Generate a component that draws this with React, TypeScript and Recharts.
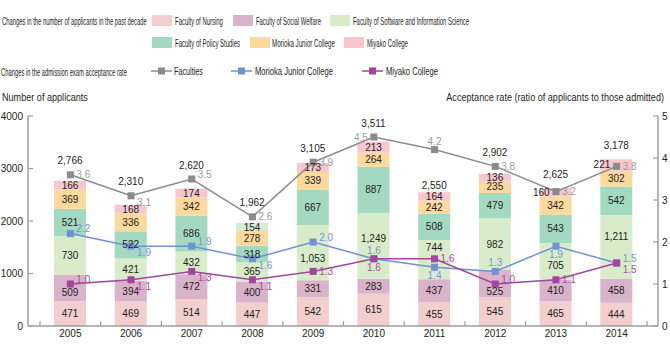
import React from 'react';
import { ComposedChart, Bar, Line, XAxis, YAxis, LabelList, Cell } from 'recharts';

// applicants per year, stacked bottom to top
const years = ['2005', '2006', '2007', '2008', '2009', '2010', '2011', '2012', '2013', '2014'];
const nursing = [471, 469, 514, 447, 542, 615, 455, 545, 465, 444];
const socialWelfare = [509, 394, 472, 400, 331, 283, 437, 525, 410, 458];
const software = [730, 421, 432, 365, 1053, 1249, 744, 982, 705, 1211];
const policy = [521, 522, 686, 318, 667, 887, 508, 479, 543, 542];
const moriokaApplicants = [369, 336, 342, 278, 339, 264, 242, 235, 342, 302];
const miyakoApplicants = [166, 168, 174, 154, 173, 213, 164, 136, 160, 221];

// acceptance rate (applicants / admitted)
const facultiesRate = [3.6, 3.1, 3.5, 2.6, 3.9, 4.5, 4.2, 3.8, 3.2, 3.8];
const moriokaRate = [2.2, 1.9, 1.9, 1.6, 2.0, 1.6, 1.4, 1.3, 1.9, 1.5];
const miyakoRate = [1.0, 1.1, 1.3, 1.1, 1.3, 1.6, 1.6, 1.0, 1.1, 1.5];

const leftTicks = [0, 1000, 2000, 3000, 4000];
const rightTicks = [0, 1, 2, 3, 4, 5];

// where each rate label sits relative to its point
const facultiesPlace = ['r', 'lr', 'ur', 'r', 'r', 'l', 'a', 'r', 'r', 'r'];
const moriokaPlace = ['ur', 'lr', 'ur', 'lr', 'ur', 'a', 'b', 'a', 'b', 'ur'];
const miyakoPlace = ['ur', 'lr', 'lr', 'lr', 'r', 'b', 'r', 'ur', 'r', 'lr'];

// vertical nudges (px) for segment labels that dodge the lines
const socialNudge = [5, 0, 0, 0, 0, 0, 0, 8, 0, 0];
const softwareNudge = [0, 0, 0, 0, 6, -8, -12, 0, 4, -10];
const noNudge = years.map(() => 0);

// the 2008 Miyako segment is printed green in the original
const oddMiyakoYear = '2008';

const C = {
  nursing: '#f2cfcd',
  social: '#d8b3c9',
  software: '#d9ecca',
  policy: '#a3d9c1',
  morioka: '#fdd99d',
  miyako: '#f7c7cd',
  miyakoOdd: '#d6ecd4',
  facLine: '#8b8b8b',
  morLine: '#7092d3',
  miyLine: '#a3459e',
  facText: '#9a9a9a',
  morText: '#7895d4',
  miyText: '#a94ca3',
  axis: '#9e9e9e',
  ink: '#231f20',
};

const FONT = '"Liberation Sans", Arial, Helvetica, sans-serif';
const W = 670;
const H = 350;
const PLOT_TOP = 116;
const PLOT_BOTTOM = 326;
const BAND = (W - 28 - 12 - 12 - 11) / years.length;

const data = years.map((year, i) => ({
  year,
  nursing: nursing[i],
  socialWelfare: socialWelfare[i],
  software: software[i],
  policy: policy[i],
  morioka: moriokaApplicants[i],
  miyako: miyakoApplicants[i],
  total: nursing[i] + socialWelfare[i] + software[i] + policy[i] + moriokaApplicants[i] + miyakoApplicants[i],
  facultiesRate: facultiesRate[i],
  moriokaRate: moriokaRate[i],
  miyakoRate: miyakoRate[i],
}));

const fmt = (v: number) => v.toLocaleString('en-US');
const rateY = (r: number) => PLOT_BOTTOM - (r / 5) * (PLOT_BOTTOM - PLOT_TOP);

// canvas measure so the condensed header texts can be squeezed to width
const measure = document.createElement('canvas').getContext('2d');
const textWidth = (s: string, size: number) => {
  if (!measure) return s.length * size * 0.5;
  measure.font = `${size}px "Liberation Sans"`;
  return measure.measureText(s).width;
};

const Squeezed = ({ x, y, len, size, text, anchor = 'start' }: any) => {
  const sx = len / textWidth(text, size);
  return (
    <text
      transform={`translate(${x},${y}) scale(${sx.toFixed(4)},1)`}
      fontSize={size}
      fontFamily={FONT}
      fill={C.ink}
      textAnchor={anchor}
    >
      {text}
    </text>
  );
};

const XTick = (p: any) => {
  const { x, y, payload, index } = p;
  return (
    <g>
      <line x1={x - BAND / 2} x2={x - BAND / 2} y1={y} y2={y - 5} stroke={C.axis} strokeWidth={1.2} />
      {index === years.length - 1 && (
        <line x1={x + BAND / 2} x2={x + BAND / 2} y1={y} y2={y - 5} stroke={C.axis} strokeWidth={1.2} />
      )}
      <text x={x} y={y + 11} textAnchor="middle" fontSize={10} fontFamily={FONT} fill={C.ink}>
        {payload.value}
      </text>
    </g>
  );
};

const LeftTick = (p: any) => {
  const { x, y, payload } = p;
  return (
    <g>
      <line x1={x} x2={x + 5} y1={y} y2={y} stroke={C.axis} strokeWidth={1.2} />
      <text x={x - 5} y={y + 3.5} textAnchor="end" fontSize={10} fontFamily={FONT} fill={C.ink}>
        {payload.value}
      </text>
    </g>
  );
};

const RightTick = (p: any) => {
  const { x, y, payload } = p;
  return (
    <g>
      <line x1={x - 5} x2={x} y1={y} y2={y} stroke={C.axis} strokeWidth={1.2} />
      <text x={x + 4} y={y + 3.5} textAnchor="start" fontSize={10} fontFamily={FONT} fill={C.ink}>
        {payload.value}
      </text>
    </g>
  );
};

const segLabel = (nudge: number[]) => (p: any) => {
  const { x, y, width, height, value, index } = p;
  return (
    <text
      x={x + width / 2}
      y={y + height / 2 + 3.5 + (nudge[index] || 0)}
      textAnchor="middle"
      fontSize={10}
      fontFamily={FONT}
      fill={C.ink}
    >
      {fmt(value)}
    </text>
  );
};

// top segment label: slides left when the faculties marker sits inside it
const MiyakoLabel = (p: any) => {
  const { x, y, width, height, value, index } = p;
  const py = rateY(facultiesRate[index]);
  const inside = py >= y && py <= y + height;
  return (
    <text
      x={inside ? x + width / 2 - 6 : x + width / 2}
      y={y + height / 2 + 3.5}
      textAnchor={inside ? 'end' : 'middle'}
      fontSize={10}
      fontFamily={FONT}
      fill={C.ink}
    >
      {fmt(value)}
    </text>
  );
};

const TotalLabel = (p: any) => {
  const { x, y, width, value, index } = p;
  const py = rateY(facultiesRate[index]);
  const ty = y - py > 30 ? y - 3 : Math.min(y, py) - 10.5;
  return (
    <text x={x + width / 2} y={ty} textAnchor="middle" fontSize={10} fontFamily={FONT} fill={C.ink}>
      {fmt(value)}
    </text>
  );
};

const rateLabel = (places: string[], color: string) => (p: any) => {
  const { x, y, value, index } = p;
  const code = places[index];
  let tx = x + 6;
  let ty = y + 3.5;
  let anchor: 'start' | 'middle' | 'end' = 'start';
  if (code === 'ur') ty = y - 1.5;
  if (code === 'lr') ty = y + 10;
  if (code === 'a') { tx = x; ty = y - 5; anchor = 'middle'; }
  if (code === 'b') { tx = x; ty = y + 12; anchor = 'middle'; }
  if (code === 'l') { tx = x - 6; anchor = 'end'; }
  return (
    <text x={tx} y={ty} textAnchor={anchor} fontSize={10} fontFamily={FONT} fill={color}>
      {Number(value).toFixed(1)}
    </text>
  );
};

const squareDot = (color: string) => (p: any) => (
  <rect key={`d-${p.index}`} x={p.cx - 3.5} y={p.cy - 3.5} width={7} height={7} fill={color} />
);

const swatches = [
  { label: 'Faculty of Nursing', color: C.nursing, x: 152, y: 15, tx: 175, len: 48 },
  { label: 'Faculty of Social Welfare', color: C.social, x: 233, y: 15, tx: 256, len: 65 },
  { label: 'Faculty of Software and Information Science', color: C.software, x: 330, y: 15, tx: 353, len: 116 },
  { label: 'Faculty of Policy Studies', color: C.policy, x: 152, y: 37, tx: 175, len: 65 },
  { label: 'Morioka Junior College', color: C.morioka, x: 250, y: 37, tx: 272, len: 63 },
  { label: 'Miyako College', color: C.miyako, x: 344, y: 37, tx: 367, len: 41 },
];

const lineKeys = [
  { label: 'Faculties', color: C.facLine, x: 151, tx: 174, len: 29 },
  { label: 'Morioka Junior College', color: C.morLine, x: 231, tx: 255, len: 78 },
  { label: 'Miyako College', color: C.miyLine, x: 362, tx: 386, len: 52 },
];

function Header() {
  return (
    <svg width={W} height={110} style={{ position: 'absolute', left: 0, top: 0 }}>
      <Squeezed x={2} y={24.5} size={11.5} len={145} text="Changes in the number of applicants in the past decade" />
      {swatches.map((s) => (
        <g key={s.label}>
          <rect x={s.x} y={s.y} width={20} height={11} fill={s.color} />
          <Squeezed x={s.tx} y={s.y + 9.5} size={11.5} len={s.len} text={s.label} />
        </g>
      ))}
      <Squeezed x={1} y={75.5} size={11} len={126} text="Changes in the admission exam acceptance rate" />
      {lineKeys.map((k) => (
        <g key={k.label}>
          <line x1={k.x} x2={k.x + 21} y1={71} y2={71} stroke={k.color} strokeWidth={1.5} />
          <rect x={k.x + 7} y={67.5} width={7} height={7} fill={k.color} />
          <Squeezed x={k.tx} y={74.5} size={11.5} len={k.len} text={k.label} />
        </g>
      ))}
      <Squeezed x={2} y={101} size={10} len={86} text="Number of applicants" />
      <Squeezed x={664} y={101} size={10} len={218} anchor="end" text="Acceptance rate (ratio of applicants to those admitted)" />
    </svg>
  );
}

export default function App() {
  return (
    <div style={{ position: 'absolute', left: 0, top: 0, width: W, height: H, background: '#fff' }}>
      <ComposedChart
        width={W}
        height={H}
        data={data}
        margin={{ top: PLOT_TOP, right: 0, bottom: 0, left: 0 }}
        barSize={32}
      >
        <XAxis
          dataKey="year"
          height={H - PLOT_BOTTOM}
          padding={{ left: 12, right: 11 }}
          interval={0}
          tickLine={false}
          tickSize={0}
          tickMargin={0}
          axisLine={{ stroke: C.axis, strokeWidth: 1.5 }}
          tick={XTick}
        />
        <YAxis
          yAxisId="left"
          width={28}
          domain={[0, 4000]}
          ticks={leftTicks}
          interval={0}
          tickLine={false}
          tickSize={0}
          tickMargin={0}
          axisLine={{ stroke: C.axis, strokeWidth: 1.5 }}
          tick={LeftTick}
        />
        <YAxis
          yAxisId="right"
          orientation="right"
          width={12}
          domain={[0, 5]}
          ticks={rightTicks}
          interval={0}
          tickLine={false}
          tickSize={0}
          tickMargin={0}
          axisLine={{ stroke: C.axis, strokeWidth: 1.5 }}
          tick={RightTick}
        />
        <Bar yAxisId="left" dataKey="nursing" stackId="a" fill={C.nursing} isAnimationActive={false}>
          <LabelList dataKey="nursing" content={segLabel(noNudge)} />
        </Bar>
        <Bar yAxisId="left" dataKey="socialWelfare" stackId="a" fill={C.social} isAnimationActive={false}>
          <LabelList dataKey="socialWelfare" content={segLabel(socialNudge)} />
        </Bar>
        <Bar yAxisId="left" dataKey="software" stackId="a" fill={C.software} isAnimationActive={false}>
          <LabelList dataKey="software" content={segLabel(softwareNudge)} />
        </Bar>
        <Bar yAxisId="left" dataKey="policy" stackId="a" fill={C.policy} isAnimationActive={false}>
          <LabelList dataKey="policy" content={segLabel(noNudge)} />
        </Bar>
        <Bar yAxisId="left" dataKey="morioka" stackId="a" fill={C.morioka} isAnimationActive={false}>
          <LabelList dataKey="morioka" content={segLabel(noNudge)} />
        </Bar>
        <Bar yAxisId="left" dataKey="miyako" stackId="a" fill={C.miyako} isAnimationActive={false}>
          {years.map((y) => (
            <Cell key={y} fill={y === oddMiyakoYear ? C.miyakoOdd : C.miyako} />
          ))}
          <LabelList dataKey="miyako" content={MiyakoLabel} />
          <LabelList dataKey="total" content={TotalLabel} />
        </Bar>
        <Line
          yAxisId="right"
          dataKey="facultiesRate"
          stroke={C.facLine}
          strokeWidth={1.5}
          dot={squareDot(C.facLine)}
          activeDot={false}
          isAnimationActive={false}
        >
          <LabelList dataKey="facultiesRate" content={rateLabel(facultiesPlace, C.facText)} />
        </Line>
        <Line
          yAxisId="right"
          dataKey="moriokaRate"
          stroke={C.morLine}
          strokeWidth={1.5}
          dot={squareDot(C.morLine)}
          activeDot={false}
          isAnimationActive={false}
        >
          <LabelList dataKey="moriokaRate" content={rateLabel(moriokaPlace, C.morText)} />
        </Line>
        <Line
          yAxisId="right"
          dataKey="miyakoRate"
          stroke={C.miyLine}
          strokeWidth={1.5}
          dot={squareDot(C.miyLine)}
          activeDot={false}
          isAnimationActive={false}
        >
          <LabelList dataKey="miyakoRate" content={rateLabel(miyakoPlace, C.miyText)} />
        </Line>
      </ComposedChart>
      <Header />
    </div>
  );
}
